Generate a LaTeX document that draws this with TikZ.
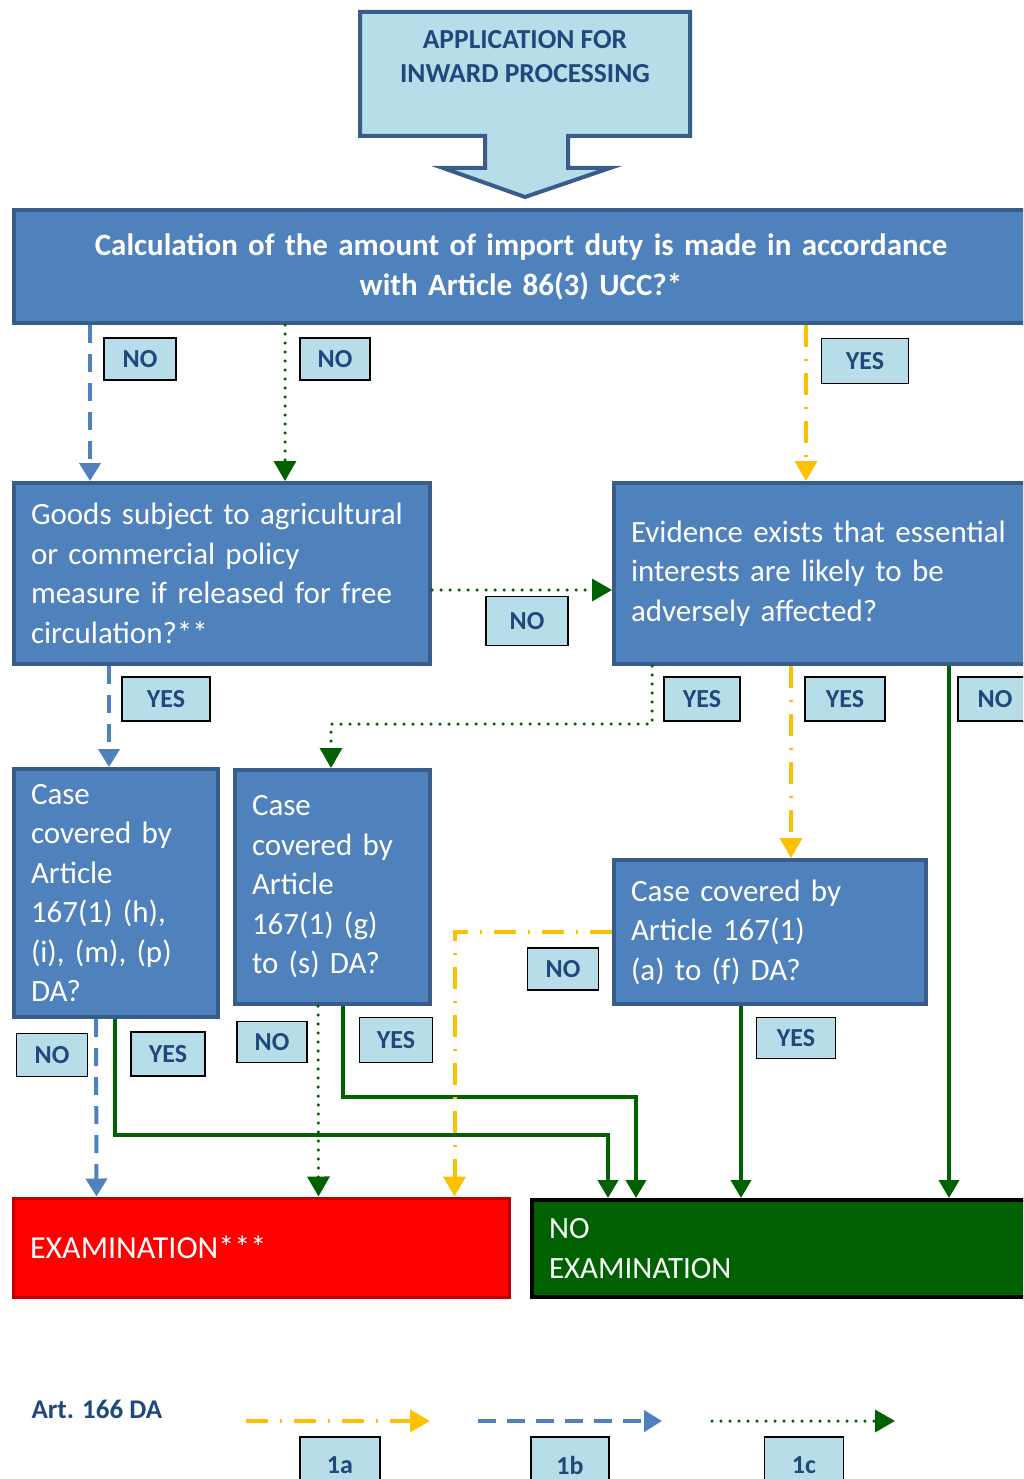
\documentclass[tikz,border=0pt]{standalone}
\usepackage{fontspec}
\setmainfont{Carlito}
\usetikzlibrary{shapes,arrows,arrows.meta}
\definecolor{boxblue}{HTML}{4F81BD}
\definecolor{edgeblue}{HTML}{385D8A}
\definecolor{paleblue}{HTML}{B7DDE8}
\definecolor{inkblue}{HTML}{1F497D}
\definecolor{amber}{HTML}{FFC000}
\definecolor{leaf}{HTML}{006100}
\definecolor{darkred}{HTML}{C00000}
\tikzstyle{block} = [rectangle, draw=edgeblue, line width=4pt, fill=boxblue, text=white, align=left, inner xsep=17pt, inner ysep=0pt, font=\fontsize{31}{39.5}\selectfont]
\tikzstyle{tag} = [rectangle, draw=black, line width=1.3pt, fill=paleblue, text=inkblue, inner sep=0pt, font=\fontsize{26}{28}\selectfont\bfseries]
\tikzstyle{bline} = [draw=boxblue, line width=4pt, dash pattern=on 18pt off 11pt, -{Triangle[width=21pt,length=18pt]}]
\tikzstyle{gdots} = [draw=leaf, line width=3.5pt, line cap=round, dash pattern=on 0pt off 9pt, -{Triangle[width=22pt,length=20pt]}]
\tikzstyle{yline} = [draw=amber, line width=4pt, dash pattern=on 22pt off 12pt on 2pt off 12pt, -{Triangle[width=22pt,length=20pt]}]
\tikzstyle{gline} = [draw=leaf, line width=4pt, -{Triangle[width=20pt,length=18pt]}]

\begin{document}
\begin{tikzpicture}[x=1pt, y=-1pt]
\useasboundingbox (0,0) rectangle (1023,1479);
\clip (0,0) rectangle (1023,1479);

% the application arrow on top
\draw [draw=edgeblue, line width=4pt, fill=paleblue] (360,12) -- (690,12) -- (690,136) -- (568,136) -- (568,168) -- (610,168) -- (525,197) -- (443,168) -- (485,168) -- (485,136) -- (360,136) -- cycle;
\node [text=inkblue, align=center, font=\fontsize{27.5}{34}\selectfont\bfseries] (app) at (525,57) {APPLICATION FOR\\INWARD PROCESSING};

\node [block, align=center, text width=980pt, minimum height=113pt, font=\fontsize{31}{40}\selectfont\bfseries] (calc) at (521,266.5) {Calculation of the amount of import duty is made in accordance\\with Article 86(3) UCC?*};

\node [block, text width=382pt, minimum height=181pt] (goods) at (222,573.5) {Goods subject to agricultural\\or commercial policy\\measure if released for free\\circulation?**};
\node [block, text width=392pt, minimum height=181pt] (evid) at (827,573.5) {Evidence exists that essential\\interests are likely to be\\adversely affected?};

\node [block, text width=170pt, minimum height=248pt] (case1) at (116,893) {Case\\covered by\\Article\\167(1) (h),\\(i), (m), (p)\\DA?};
\node [block, text width=161pt, minimum height=234pt] (case2) at (332.5,887) {Case\\covered by\\Article\\167(1) (g)\\to (s) DA?};
\node [block, text width=278pt, minimum height=144pt] (case3) at (770,932) {Case covered by\\Article 167(1)\\(a) to (f) DA?};

\node [block, draw=darkred, line width=3pt, fill=red, text width=462pt, minimum height=99pt, font=\fontsize{32}{40}\selectfont] (exam) at (261,1247.5) {EXAMINATION***};
\node [block, draw=black, fill=leaf, text width=474pt, minimum height=97pt] (noexam) at (786,1248.5) {NO\\EXAMINATION};

% yes / no tags
\node [tag, minimum width=72pt, minimum height=42pt] (no1) at (140,359) {NO};
\node [tag, minimum width=70pt, minimum height=42pt] (no2) at (335,359) {NO};
\node [tag, minimum width=87pt, minimum height=45pt] (yes1) at (865,361) {YES};
\node [tag, minimum width=82pt, minimum height=49pt] (no3) at (527,621) {NO};
\node [tag, minimum width=88pt, minimum height=44pt] (yes2) at (166,699) {YES};
\node [tag, minimum width=76pt, minimum height=44pt] (yes3) at (702,699) {YES};
\node [tag, minimum width=80pt, minimum height=44pt] (yes4) at (845,699) {YES};
\node [tag, minimum width=74pt, minimum height=44pt] (no4) at (995,699) {NO};
\node [tag, minimum width=71pt, minimum height=42pt] (no5) at (563,969) {NO};
\node [tag, minimum width=71pt, minimum height=43pt] (no6) at (52,1055) {NO};
\node [tag, minimum width=74pt, minimum height=44pt] (yes5) at (168,1054) {YES};
\node [tag, minimum width=70pt, minimum height=41pt] (no7) at (272,1042) {NO};
\node [tag, minimum width=73pt, minimum height=45pt] (yes6) at (396,1040) {YES};
\node [tag, minimum width=79pt, minimum height=41pt] (yes7) at (796,1038) {YES};

% now we link together the blocks with arrows
\path [bline] ([xshift=78pt]calc.south west) -- ([xshift=78pt]goods.north west);
\path [gdots] ([xshift=273pt]calc.south west) -- ([xshift=273pt]goods.north west);
\path [yline] ([xshift=794pt]calc.south west) -- ([xshift=194pt]evid.north west);
\path [gdots] ([yshift=-16.5pt]goods.east) -- ([yshift=-16.5pt]evid.west);

\path [bline] ([xshift=97pt]goods.south west) -- ([xshift=97pt]case1.north west);
\path [gdots] ([xshift=40pt]evid.south west) -- ++(0,58) -| ([xshift=98pt]case2.north west);
\path [yline] ([xshift=179pt]evid.south west) -- ([xshift=179pt]case3.north west);
\path [gline] ([xshift=337pt]evid.south west) -- ([xshift=419pt]noexam.north west);

\path [bline] ([xshift=84pt]case1.south west) -- ([xshift=85pt]exam.north west);
\path [gline] ([xshift=103pt]case1.south west) -- ++(0,116) -| ([xshift=78pt]noexam.north west);
\path [gdots] ([xshift=85pt]case2.south west) -- ([xshift=307pt]exam.north west);
\path [gline] ([xshift=110pt]case2.south west) -- ++(0,91) -| ([xshift=106pt]noexam.north west);
\path [yline] (case3.west) -| ([xshift=443pt]exam.north west);
\path [gline] ([xshift=129pt]case3.south west) -- ([xshift=211pt]noexam.north west);

% legend
\node [anchor=west, text=inkblue, font=\fontsize{27}{30}\selectfont\bfseries] (art) at (28,1409) {Art. 166 DA};
\coordinate (ya) at (246,1421);
\coordinate (yb) at (430,1421);
\coordinate (ba) at (478,1421);
\coordinate (bb) at (662,1421);
\coordinate (ga) at (712,1421);
\coordinate (gb) at (895,1421);
\path [yline] (ya) -- (yb);
\path [bline] (ba) -- (bb);
\path [gdots] (ga) -- (gb);
\node [tag, minimum width=80pt, minimum height=56pt] (l1a) at (340,1465) {1a};
\node [tag, minimum width=78pt, minimum height=56pt] (l1b) at (570,1465) {1b};
\node [tag, minimum width=79pt, minimum height=56pt] (l1c) at (804,1465) {1c};

\end{tikzpicture}
\end{document}
